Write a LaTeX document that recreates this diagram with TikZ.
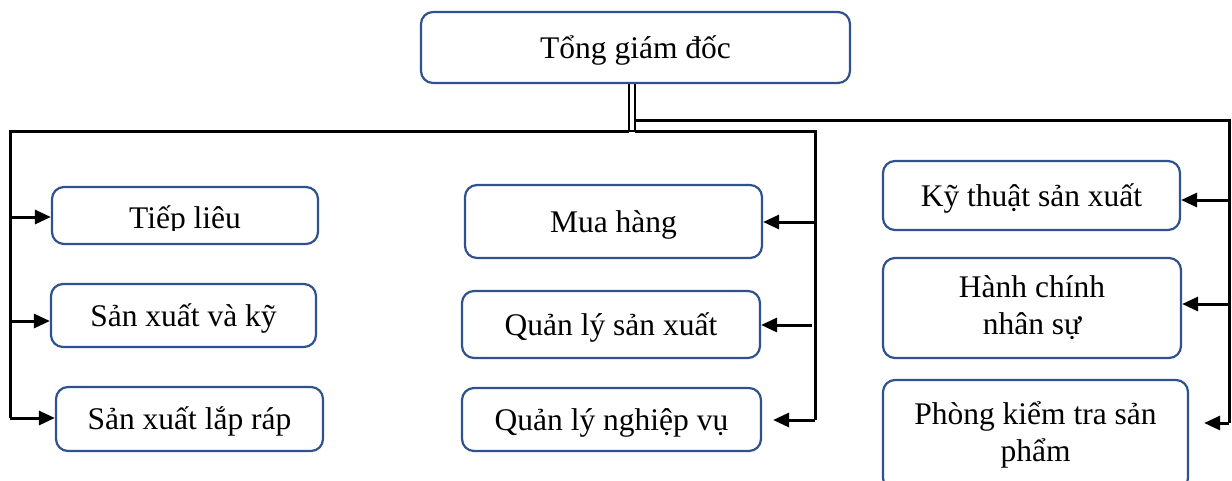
\documentclass[tikz,border=0pt]{standalone}
\usepackage{fontspec}
\setmainfont{Liberation Serif}
\usetikzlibrary{arrows.meta}
\definecolor{boxblue}{RGB}{47,82,143}
\begin{document}
\begin{tikzpicture}[x=1pt,y=-1pt,
  box/.style={draw=boxblue, line width=2.2pt, rounded corners=12pt, fill=white,
    inner sep=0pt, align=center, font=\fontsize{31.5}{37}\selectfont},
  oneline/.style={text height=28pt, text depth=7pt},
  lbl/.style={inner sep=0pt, font=\fontsize{31.5}{37}\selectfont},
  wire/.style={line width=3pt},
  thinwire/.style={line width=2.2pt},
  arr/.style={wire, -{Triangle[length=16pt,width=14pt]}}]
\useasboundingbox (0,0) rectangle (1232,480);

% boxes
\node[box, oneline, minimum width=429pt, minimum height=71pt] (top) at (635.5,47.5) {Tổng giám đốc};
\node[box, minimum width=266pt, minimum height=57pt] (tl) at (185,215.5) {};
\begin{scope}
  \clip (52,187) rectangle (318,230);
  \node[lbl, anchor=base] (tlt) at (185,228) {Tiếp liêu};
\end{scope}
\node[box, oneline, minimum width=265pt, minimum height=63pt] (sv) at (183.5,315.5) {Sản xuất và kỹ};
\node[box, oneline, minimum width=267pt, minimum height=64pt] (sl) at (189.5,419) {Sản xuất lắp ráp};

\node[box, oneline, minimum width=297pt, minimum height=73pt] (mh) at (613.5,221.5) {Mua hàng};
\node[box, oneline, minimum width=298pt, minimum height=67pt] (qs) at (611,324.5) {Quản lý sản xuất};
\node[box, oneline, minimum width=299pt, minimum height=63pt] (qn) at (611.5,419.5) {Quản lý nghiệp vụ};

\node[box, oneline, minimum width=297pt, minimum height=69pt] (kt) at (1031.5,195.5) {Kỹ thuật sản xuất};
\node[box, minimum width=298pt, minimum height=100pt] (hc) at (1032,308) {Hành chính\\nhân sự};
\node[box, minimum width=305pt, minimum height=110pt] (pk) at (1035.5,435) {Phòng kiểm tra sản\\phẩm};

% junctions
\coordinate (jl) at (629,131);
\coordinate (jr) at (635,131);
\coordinate (jr2) at (635,120);
\coordinate (lc) at (10,131);
\coordinate (lb) at (10,418);
\coordinate (mc) at (815,131);
\coordinate (mb) at (815,420);
\coordinate (rc) at (1229,120);
\coordinate (rb) at (1229,423);

\draw[thinwire] (top.south -| jl) -- (jl);
\draw[thinwire] (top.south -| jr) -- (jr) -- (jl);
\draw[wire] (jl) -- (lc) -- (lb);
\draw[wire] (jr) -- (mc) -- (mb);
\draw[wire] (jr2) -- (rc) -- (rb);

% left arrows
\coordinate (l1) at (10,217);
\coordinate (l2) at (10,321);
\coordinate (l3) at (10,418);
\draw[arr] (l1) -- (l1 -| tl.west);
\draw[arr] (l2) -- (l2 -| sv.west);
\draw[arr] (l3) -- (l3 -| sl.west);

% middle arrows
\coordinate (m1) at (815,222);
\coordinate (m2) at (812,325);
\coordinate (m3) at (815,420);
\draw[arr] (m1) -- (m1 -| mh.east);
\draw[arr] (m2) -- (m2 -| qs.east);
\draw[arr] (m3) -- ([xshift=11pt]m3 -| qn.east);

% right arrows
\coordinate (r1) at (1229,200);
\coordinate (r2) at (1229,304);
\coordinate (r3) at (1229,423);
\draw[arr] (r1) -- (r1 -| kt.east);
\draw[arr] (r2) -- (r2 -| hc.east);
\draw[arr] (r3) -- ([xshift=15pt]r3 -| pk.east);
\end{tikzpicture}
\end{document}
